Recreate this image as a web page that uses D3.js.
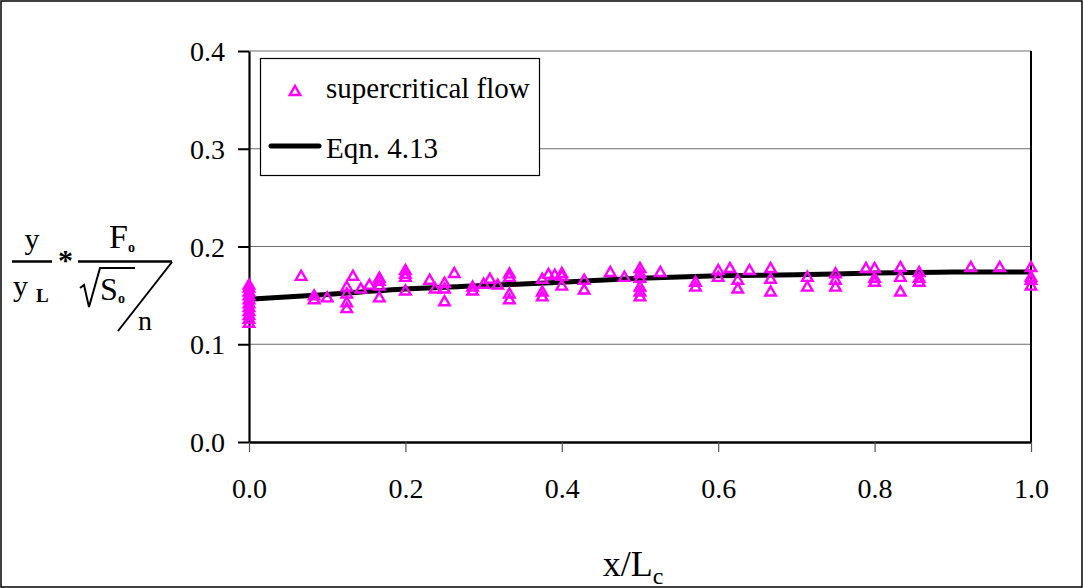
<!DOCTYPE html>
<html>
<head>
<meta charset="utf-8">
<script src="https://cdn.jsdelivr.net/npm/d3@7"></script>
<style>
  html, body { margin: 0; padding: 0; background: #fff; }
  svg { display: block; }
  svg text { font-family: "Liberation Serif", "DejaVu Serif", "Times New Roman", serif !important; }
</style>
</head>
<body>
<div id="chart"></div>
<script>
const obsX = [
  0, 0, 0, 0, 0, 0, 0, 0, 0, 0, 0,
  0.0667, 0.0833, 0.0833, 0.1,
  0.125, 0.125, 0.125, 0.125, 0.133, 0.143, 0.154,
  0.1667, 0.1667, 0.1667, 0.1667,
  0.2, 0.2, 0.2, 0.2,
  0.231, 0.238, 0.25, 0.25, 0.25, 0.2625, 0.286, 0.286,
  0.3, 0.308, 0.318,
  0.333, 0.333, 0.333, 0.333,
  0.375, 0.375, 0.375, 0.383, 0.391,
  0.4, 0.4, 0.4, 0.4286, 0.4286, 0.462, 0.48,
  0.5, 0.5, 0.5, 0.5, 0.5, 0.5, 0.526,
  0.571, 0.571, 0.6, 0.6, 0.615, 0.625, 0.625, 0.64,
  0.667, 0.667, 0.667, 0.714, 0.714,
  0.75, 0.75, 0.75, 0.789, 0.8, 0.8, 0.8,
  0.833, 0.833, 0.833, 0.857, 0.857, 0.857,
  0.923, 0.96, 1, 1, 1, 1
];
const obsY = [
  0.122, 0.126, 0.130, 0.134, 0.138, 0.142, 0.146, 0.150, 0.154, 0.158, 0.161,
  0.170, 0.150, 0.146, 0.148,
  0.159, 0.152, 0.143, 0.137, 0.170, 0.157, 0.161,
  0.168, 0.165, 0.160, 0.148,
  0.176, 0.172, 0.169, 0.155,
  0.166, 0.157, 0.163, 0.157, 0.144, 0.173, 0.159, 0.155,
  0.162, 0.167, 0.161,
  0.1725, 0.169, 0.152, 0.146,
  0.167, 0.154, 0.149, 0.172, 0.171,
  0.173, 0.170, 0.160, 0.166, 0.156, 0.174, 0.169,
  0.178, 0.173, 0.168, 0.159, 0.154, 0.149, 0.174,
  0.164, 0.159, 0.176, 0.169, 0.178, 0.166, 0.157, 0.176,
  0.178, 0.167, 0.154, 0.169, 0.159,
  0.1726, 0.166, 0.159, 0.178, 0.178, 0.168, 0.164,
  0.179, 0.169, 0.154, 0.174, 0.168, 0.164,
  0.179, 0.179, 0.179, 0.169, 0.166, 0.160
];

// Eqn. 4.13 read at regular x steps
const eqnX = [0, 0.1, 0.2, 0.3, 0.4, 0.5, 0.6, 0.7, 0.8, 0.9, 1.0];
const eqnY = [0.146, 0.151, 0.1565, 0.160, 0.1635, 0.1675, 0.170, 0.171, 0.173, 0.1738, 0.174];

const yTicks = [0, 0.1, 0.2, 0.3, 0.4];
const xTicks = [0, 0.2, 0.4, 0.6, 0.8, 1.0];
const seriesNames = ['supercritical flow', 'Eqn. 4.13'];

const W = 1083, H = 588;
const MAG = '#ff00ff';

const svg = d3.select('#chart').append('svg').attr('width', W).attr('height', H);

svg.append('rect').attr('x', 1).attr('y', 1).attr('width', W - 2).attr('height', H - 2)
  .attr('fill', '#fff').attr('stroke', '#000').attr('stroke-width', 1.5);

const x = d3.scaleLinear().domain([0, 1]).range([249, 1031]);
const y = d3.scaleLinear().domain([0, 0.4]).range([442, 51]);

// gridlines
svg.append('g').selectAll('line').data(yTicks.filter(d => d > 0)).join('line')
  .attr('x1', x(0)).attr('x2', x(1)).attr('y1', d => y(d)).attr('y2', d => y(d))
  .attr('stroke', '#6e6e6e').attr('stroke-width', 1.2);

// right border of plot area
svg.append('line').attr('x1', x(1)).attr('x2', x(1)).attr('y1', y(0.4)).attr('y2', y(0))
  .attr('stroke', '#000').attr('stroke-width', 2);

// axes
const yAxis = svg.append('g').attr('transform', `translate(${x(0)},0)`)
  .call(d3.axisLeft(y).tickValues(yTicks).tickFormat(d3.format('.1f')).tickSize(11).tickSizeOuter(0));
yAxis.select('.domain').attr('stroke', '#000').attr('stroke-width', 2.2);
yAxis.selectAll('.tick line').attr('stroke', '#000').attr('stroke-width', 2);
yAxis.selectAll('.tick text').attr('x', -24).attr('dy', '0.34em')
  .attr('font-size', 28).attr('fill', '#000');

const xAxis = svg.append('g').attr('transform', `translate(0,${y(0)})`)
  .call(d3.axisBottom(x).tickValues(xTicks).tickFormat(d3.format('.1f')).tickSize(10).tickSizeOuter(0));
xAxis.select('.domain').attr('stroke', '#000').attr('stroke-width', 2.4);
xAxis.selectAll('.tick line').attr('stroke', '#555').attr('stroke-width', 1.2);
xAxis.selectAll('.tick text').attr('y', 56).attr('dy', 0)
  .attr('font-size', 28).attr('fill', '#000');

// equation curve
const eqnPts = eqnX.map((v, i) => [v, eqnY[i]]);
svg.append('path').datum(eqnPts)
  .attr('d', d3.line().x(d => x(d[0])).y(d => y(d[1])).curve(d3.curveMonotoneX))
  .attr('fill', 'none').attr('stroke', '#000').attr('stroke-width', 5);

// observations
const tri = d3.symbol().type(d3.symbolTriangle).size(48);
svg.append('g').selectAll('path').data(obsX.map((v, i) => [v, obsY[i]])).join('path')
  .attr('d', tri)
  .attr('transform', d => `translate(${x(d[0])},${y(d[1]) + 1})`)
  .attr('fill', 'none').attr('stroke', MAG).attr('stroke-width', 2.4);

// legend
const lg = svg.append('g');
lg.append('rect').attr('x', 260.5).attr('y', 58.5).attr('width', 279).attr('height', 117)
  .attr('fill', '#fff').attr('stroke', '#000').attr('stroke-width', 1.2);
lg.append('path').attr('d', tri).attr('transform', 'translate(295,92)')
  .attr('fill', 'none').attr('stroke', MAG).attr('stroke-width', 2.4);
lg.append('line').attr('x1', 271).attr('x2', 319).attr('y1', 146).attr('y2', 146)
  .attr('stroke', '#000').attr('stroke-width', 5).attr('stroke-linecap', 'round');
lg.selectAll('text').data(seriesNames).join('text')
  .attr('x', 326).attr('y', (d, i) => i === 0 ? 98 : 158)
  .attr('font-size', 29).attr('fill', '#000').text(d => d);

// x axis title
const xt = svg.append('text').attr('x', 633).attr('y', 576).attr('text-anchor', 'middle')
  .attr('font-size', 36).attr('fill', '#000');
xt.append('tspan').text('x/L');
xt.append('tspan').attr('font-size', 24).attr('dy', 8).text('c');

// y axis title: y/yL * Fo / (sqrt(So)/n)
const yl = svg.append('g').attr('font-size', 30).attr('fill', '#000');
yl.append('text').attr('x', 32).attr('y', 249).attr('text-anchor', 'middle').text('y');
yl.append('line').attr('x1', 12).attr('x2', 52).attr('y1', 261.5).attr('y2', 261.5)
  .attr('stroke', '#000').attr('stroke-width', 2.5);
yl.append('text').attr('x', 13).attr('y', 296).text('y');
yl.append('text').attr('x', 36).attr('y', 302).attr('font-size', 19).attr('font-weight', 'bold').text('L');
yl.append('text').attr('x', 58).attr('y', 270).attr('font-size', 30).attr('font-weight', 'bold').text('*');
yl.append('text').attr('x', 109).attr('y', 248).attr('font-size', 34).text('F');
yl.append('text').attr('x', 128).attr('y', 252).attr('font-size', 14).attr('font-weight', 'bold').text('o');
yl.append('line').attr('x1', 78).attr('x2', 172).attr('y1', 261.5).attr('y2', 261.5)
  .attr('stroke', '#000').attr('stroke-width', 2.5);
yl.append('path').attr('d', 'M80,288 L84,285 L89,307 L100,268 L135,268')
  .attr('fill', 'none').attr('stroke', '#000').attr('stroke-width', 2);
yl.append('text').attr('x', 100).attr('y', 300).attr('font-size', 32).text('S');
yl.append('text').attr('x', 118).attr('y', 303).attr('font-size', 14).attr('font-weight', 'bold').text('o');
yl.append('line').attr('x1', 172).attr('x2', 118).attr('y1', 262).attr('y2', 331)
  .attr('stroke', '#000').attr('stroke-width', 2);
yl.append('text').attr('x', 138).attr('y', 330).attr('font-size', 28).text('n');
</script>
</body>
</html>
